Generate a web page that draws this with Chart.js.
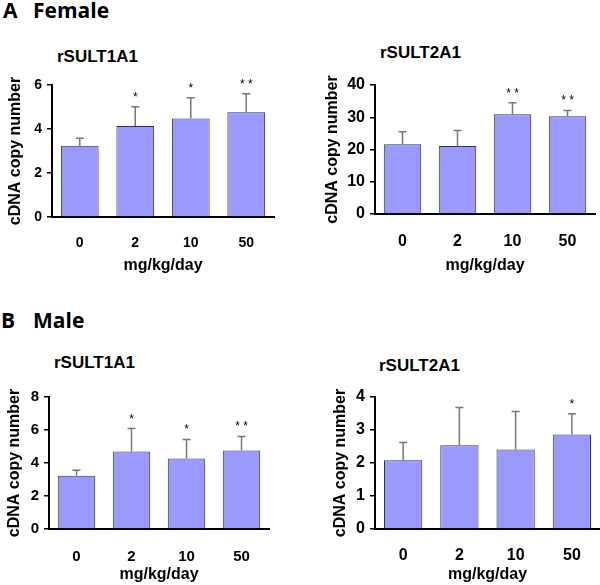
<!DOCTYPE html>
<html lang="en">
<head>
<meta charset="UTF-8">
<title>rSULT1A1 / rSULT2A1 cDNA copy number</title>
<style>
  body { margin: 0; background: #fff; }
  #page { position: relative; width: 600px; height: 585px; overflow: hidden; font-family: "Liberation Sans", Arial, sans-serif; }
  .head { position: absolute; font-family: "Open Sans", sans-serif; font-weight: 700; font-size: 21px; line-height: 21px; }
  .gene { position: absolute; font-weight: 700; font-size: 17px; line-height: 17px; }
  canvas { position: absolute; }
</style>
<script src="https://cdn.jsdelivr.net/npm/chart.js"></script>
</head>
<body>
<div id="page">
  <div class="head" style="left:3px; top:0px;">A</div>
  <div class="head" style="left:33px; top:0px;">Female</div>
  <div class="gene" style="left:57px; top:48px;">rSULT1A1</div>
  <div class="gene" style="left:380px; top:44px;">rSULT2A1</div>
  <canvas id="femaleS1" width="300" height="210" style="left:0; top:70px;"></canvas>
  <canvas id="femaleS2" width="300" height="210" style="left:300px; top:70px;"></canvas>

  <div class="head" style="left:1px; top:310px;">B</div>
  <div class="head" style="left:33px; top:310px;">Male</div>
  <div class="gene" style="left:54px; top:354px;">rSULT1A1</div>
  <div class="gene" style="left:379px; top:357px;">rSULT2A1</div>
  <canvas id="maleS1" width="300" height="205" style="left:0; top:380px;"></canvas>
  <canvas id="maleS2" width="300" height="205" style="left:300px; top:380px;"></canvas>
</div>

<script>
  // doses on the x axis
  const doses = ['0', '2', '10', '50'];

  // female rSULT1A1
  const femaleS1Mean = [3.24, 4.14, 4.48, 4.76];
  const femaleS1Sd = [0.34, 0.87, 0.94, 0.84];
  const femaleS1Sig = ['', '*', '*', '**'];
  const femaleS1Axis = [6, 2]; // max, step

  // female rSULT2A1
  const femaleS2Mean = [21.6, 21.1, 30.9, 30.3];
  const femaleS2Sd = [3.9, 4.8, 3.6, 1.8];
  const femaleS2Sig = ['', '', '**', '**'];
  const femaleS2Axis = [40, 10];

  // male rSULT1A1
  const maleS1Mean = [3.23, 4.70, 4.28, 4.76];
  const maleS1Sd = [0.33, 1.39, 1.15, 0.85];
  const maleS1Sig = ['', '*', '*', '**'];
  const maleS1Axis = [8, 2];

  // male rSULT2A1
  const maleS2Mean = [2.08, 2.54, 2.41, 2.86];
  const maleS2Sd = [0.54, 1.14, 1.15, 0.63];
  const maleS2Sig = ['', '', '', '*'];
  const maleS2Axis = [4, 1];

  const FONT = '"Liberation Sans", Arial, sans-serif';

  // upper error whisker + significance stars
  const errorBars = {
    id: 'errorBars',
    afterDatasetsDraw(chart, args, opts) {
      const { ctx, scales: { y } } = chart;
      const values = chart.data.datasets[0].data;
      ctx.save();
      chart.getDatasetMeta(0).data.forEach((bar, i) => {
        const base = y.getPixelForValue(values[i]);
        const top = y.getPixelForValue(values[i] + opts.sd[i]);
        ctx.strokeStyle = '#777';
        ctx.lineWidth = 1.5;
        ctx.beginPath();
        ctx.moveTo(bar.x, base);
        ctx.lineTo(bar.x, top);
        ctx.moveTo(bar.x - 4, top);
        ctx.lineTo(bar.x + 4, top);
        ctx.stroke();
        if (opts.sig[i]) {
          ctx.fillStyle = '#000';
          ctx.font = '12px ' + FONT;
          ctx.textAlign = 'center';
          ctx.textBaseline = 'alphabetic';
          ctx.fillText(opts.sig[i].split('').join(' '), bar.x, top - 6);
        }
      });
      ctx.restore();
    }
  };

  const makeChart = (id, mean, sd, sig, axis, box) => {
    const ctx = document.getElementById(id).getContext('2d');
    return new Chart(ctx, {
      type: 'bar',
      data: {
        labels: doses,
        datasets: [{
          data: mean,
          backgroundColor: '#9999ff',
          borderColor: '#34344f',
          borderWidth: 1,
          barPercentage: 0.68,
          categoryPercentage: 1
        }]
      },
      plugins: [errorBars],
      options: {
        responsive: false,
        animation: false,
        events: [],
        layout: { padding: { top: box.top, right: box.right, left: 0, bottom: 0 } },
        plugins: {
          legend: { display: false },
          tooltip: { enabled: false },
          errorBars: { sd: sd, sig: sig }
        },
        scales: {
          x: {
            grid: { display: false, drawTicks: false },
            border: { display: true, color: '#000', width: 2 },
            ticks: { color: '#000', padding: box.xTickPad, font: { family: FONT, size: box.tick, weight: 'bold' } },
            title: {
              display: true, text: 'mg/kg/day', color: '#000',
              padding: { top: 0, bottom: box.xTitlePad },
              font: { family: FONT, size: 16, weight: 'bold' }
            },
            afterFit: s => { s.height = box.xHeight; }
          },
          y: {
            min: 0,
            max: axis[0],
            grid: { drawOnChartArea: false, drawTicks: true, tickLength: 5, color: '#000', lineWidth: 1.5 },
            border: { display: true, color: '#000', width: 2 },
            ticks: { stepSize: axis[1], color: '#000', padding: 5, font: { family: FONT, size: box.tick, weight: 'bold' } },
            title: {
              display: true, text: 'cDNA copy number', color: '#000',
              padding: { top: box.yTitlePad, bottom: 0 },
              font: { family: FONT, size: 16, weight: 'bold' }
            },
            afterFit: s => { s.width = box.yWidth; }
          }
        }
      }
    });
  };

  makeChart('femaleS1', femaleS1Mean, femaleS1Sd, femaleS1Sig, femaleS1Axis,
    { top: 15, right: 26, yWidth: 52, xHeight: 63, yTitlePad: 6, xTickPad: 18, xTitlePad: 5, tick: 14 });
  makeChart('femaleS2', femaleS2Mean, femaleS2Sd, femaleS2Sig, femaleS2Axis,
    { top: 15, right: 5, yWidth: 75, xHeight: 66, yTitlePad: 23, xTickPad: 18, xTitlePad: 5, tick: 16 });
  makeChart('maleS1', maleS1Mean, maleS1Sd, maleS1Sig, maleS1Axis,
    { top: 17, right: 31, yWidth: 49, xHeight: 56, yTitlePad: 5, xTickPad: 19, xTitlePad: 1, tick: 15 });
  makeChart('maleS2', maleS2Mean, maleS2Sd, maleS2Sig, maleS2Axis,
    { top: 17, right: 0, yWidth: 75, xHeight: 56, yTitlePad: 31, xTickPad: 17, xTitlePad: 1, tick: 16 });
</script>
</body>
</html>
